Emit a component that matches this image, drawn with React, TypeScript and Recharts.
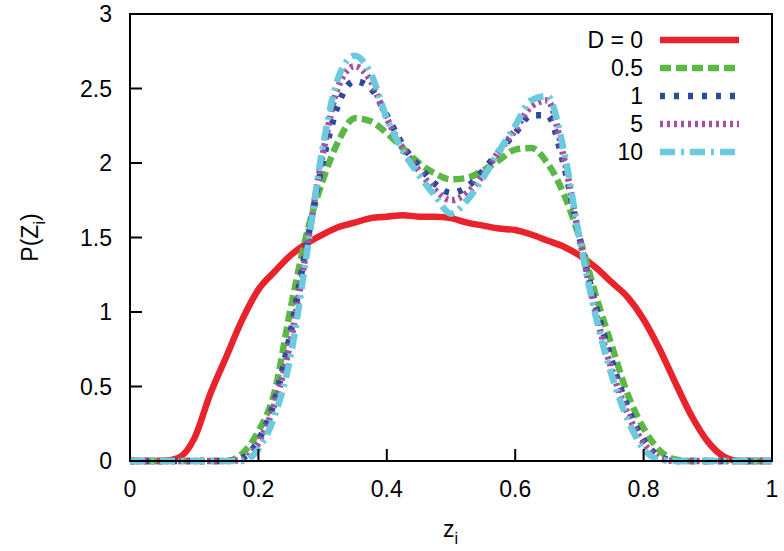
import React from "react";
import { LineChart, Line, XAxis, YAxis, Legend, Label } from "recharts";

// z_i sample positions
const zValues = [
  0, 0.025, 0.05, 0.075, 0.1, 0.125, 0.15, 0.175, 0.2, 0.225, 0.25, 0.275, 0.3, 0.325, 0.35, 0.375, 0.4,
  0.425, 0.45, 0.475, 0.5, 0.525, 0.55, 0.575, 0.6, 0.625, 0.65, 0.675, 0.7, 0.725, 0.75, 0.775, 0.8,
  0.825, 0.85, 0.875, 0.9, 0.925, 0.95, 0.975, 1,
];

const d0 = [
  0, 0, 0, 0.02, 0.15, 0.45, 0.7, 0.95, 1.15, 1.27, 1.38, 1.46, 1.52, 1.57, 1.6, 1.63, 1.64,
  1.65, 1.64, 1.64, 1.63, 1.6, 1.58, 1.56, 1.55, 1.52, 1.48, 1.44, 1.38, 1.3, 1.2, 1.1, 0.95,
  0.75, 0.52, 0.3, 0.13, 0.03, 0, 0, 0,
];
const d05 = [
  0, 0, 0, 0, 0, 0, 0, 0.05, 0.2, 0.46, 1.02, 1.52, 1.88, 2.15, 2.3, 2.28, 2.2,
  2.1, 2.0, 1.93, 1.89, 1.9, 1.95, 2.02, 2.09, 2.1, 2.0, 1.8, 1.5, 1.12, 0.78, 0.45, 0.22,
  0.07, 0.01, 0, 0, 0, 0, 0, 0,
];
const d1 = [
  0, 0, 0, 0, 0, 0, 0, 0.02, 0.14, 0.4, 0.86, 1.45, 2.0, 2.4, 2.55, 2.5, 2.32,
  2.12, 1.98, 1.86, 1.8, 1.84, 1.95, 2.08, 2.2, 2.32, 2.32, 2.0, 1.5, 1.05, 0.68, 0.36, 0.14,
  0.03, 0, 0, 0, 0, 0, 0, 0,
];
const d5 = [
  0, 0, 0, 0, 0, 0, 0, 0.01, 0.12, 0.38, 0.8, 1.42, 2.05, 2.52, 2.65, 2.55, 2.3,
  2.1, 1.95, 1.82, 1.75, 1.8, 1.92, 2.08, 2.22, 2.38, 2.42, 2.05, 1.5, 1.0, 0.62, 0.32, 0.12,
  0.02, 0, 0, 0, 0, 0, 0, 0,
];
const d10 = [
  0, 0, 0, 0, 0, 0, 0, 0, 0.08, 0.3, 0.7, 1.38, 2.1, 2.58, 2.72, 2.6, 2.3,
  2.08, 1.92, 1.78, 1.66, 1.75, 1.9, 2.08, 2.25, 2.42, 2.45, 2.1, 1.5, 0.98, 0.58, 0.28, 0.08,
  0.01, 0, 0, 0, 0, 0, 0, 0,
];

const xTicks = [0, 0.2, 0.4, 0.6, 0.8, 1];
const yTicks = [0, 0.5, 1, 1.5, 2, 2.5, 3];

const seriesNames = ["D = 0", "0.5", "1", "5", "10"];
const seriesKeys = ["d0", "d05", "d1", "d5", "d10"];
const seriesColors = ["#e8232b", "#5cb846", "#2c4a9c", "#a6509f", "#6ccadf"];
const seriesDash = ["", "11 5", "5 9", "3 4", "15 6 3 6"];

const data = zValues.map((z, i) => ({
  z,
  d0: d0[i],
  d05: d05[i],
  d1: d1[i],
  d5: d5[i],
  d10: d10[i],
}));

const FONT = "'Liberation Sans', Arial, Helvetica, sans-serif";

const renderLegend = () => (
  <svg width={200} height={150}>
    {seriesNames.map((name, i) => {
      const y = 14 + i * 28;
      return (
        <g key={name}>
          <text x={83} y={y} dy="0.35em" textAnchor="end" fontSize={23} fontFamily={FONT} fill="#000">
            {name}
          </text>
          <line
            x1={100}
            x2={179}
            y1={y}
            y2={y}
            stroke={seriesColors[i]}
            strokeWidth={6.5}
            strokeDasharray={seriesDash[i] || undefined}
          />
        </g>
      );
    })}
  </svg>
);

export default function App() {
  const tickStyle = { fontSize: 23, fill: "#000", fontFamily: FONT };
  const lineStyle = { stroke: "#000", strokeWidth: 2 };
  return (
    <div style={{ position: "absolute", left: 0, top: 0, width: 784, height: 551, background: "#fff" }}>
      {/* plot frame, behind the chart so curves sit on top of it */}
      <svg width={784} height={551} style={{ position: "absolute", left: 0, top: 0 }}>
        <rect x={130} y={14} width={642} height={447} fill="none" stroke="#000" strokeWidth={2} />
      </svg>
      <div style={{ position: "absolute", left: 0, top: 0 }}>
        <LineChart
          width={784}
          height={551}
          data={data}
          margin={{ top: 14, right: 12, bottom: 60, left: 70 }}
        >
          <XAxis
            dataKey="z"
            type="number"
            domain={[0, 1]}
            ticks={xTicks}
            tickLine={lineStyle}
            tickSize={-12}
            tickMargin={32}
            height={30}
            axisLine={lineStyle}
            tick={tickStyle}
            tickFormatter={(v: number) => String(v)}
          >
            <Label
              content={(props: any) => {
                const vb = props.viewBox || { x: 130, width: 642, y: 461 };
                return (
                  <text x={vb.x + vb.width / 2 - 8} y={537} fontSize={23} fontFamily={FONT} fill="#000">
                    z
                    <tspan dy={7} fontSize={16}>i</tspan>
                  </text>
                );
              }}
            />
          </XAxis>
          <XAxis
            xAxisId="top"
            dataKey="z"
            type="number"
            domain={[0, 1]}
            ticks={xTicks}
            orientation="top"
            tick={false}
            tickLine={lineStyle}
            tickSize={-12}
            height={0}
            axisLine={lineStyle}
          />
          <YAxis
            type="number"
            domain={[0, 3]}
            ticks={yTicks}
            tickLine={lineStyle}
            tickSize={-12}
            tickMargin={30}
            width={60}
            axisLine={lineStyle}
            tick={tickStyle}
            tickFormatter={(v: number) => String(v)}
          >
            <Label
              content={(props: any) => {
                const vb = props.viewBox || { y: 14, height: 447 };
                const cy = vb.y + vb.height / 2;
                return (
                  <text
                    x={0}
                    y={0}
                    transform={`translate(38, ${cy}) rotate(-90)`}
                    textAnchor="middle"
                    fontSize={23}
                    fontFamily={FONT}
                    fill="#000"
                  >
                    P(Z
                    <tspan dy={7} fontSize={16}>i</tspan>
                    <tspan dy={-7}>)</tspan>
                  </text>
                );
              }}
            />
          </YAxis>
          <YAxis
            yAxisId="right"
            orientation="right"
            type="number"
            domain={[0, 3]}
            ticks={yTicks}
            tick={false}
            tickLine={lineStyle}
            tickSize={-12}
            width={0}
            axisLine={lineStyle}
          />

          {seriesKeys.map((k, i) => (
            <Line
              key={k}
              dataKey={k}
              name={seriesNames[i]}
              type="monotone"
              stroke={seriesColors[i]}
              strokeWidth={6.5}
              strokeDasharray={seriesDash[i] || undefined}
              dot={false}
              activeDot={false}
              isAnimationActive={false}
            />
          ))}

          <Legend
            layout="vertical"
            align="center"
            verticalAlign="middle"
            content={renderLegend}
            wrapperStyle={{ left: 560, top: 26, width: 200, height: 150 }}
          />
        </LineChart>
      </div>
    </div>
  );
}
